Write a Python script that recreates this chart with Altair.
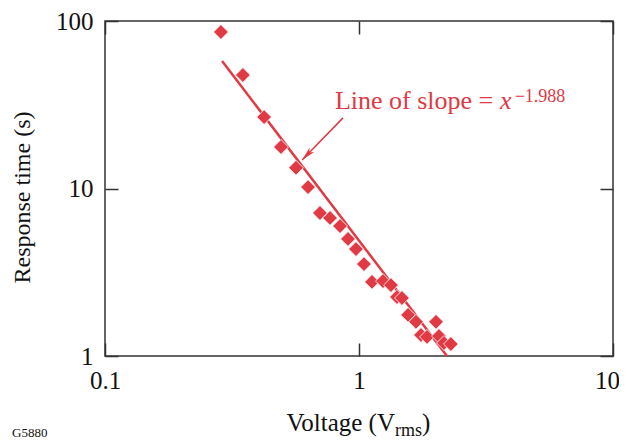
import altair as alt
import pandas as pd

# ---- data ----
volts = [0.286, 0.349, 0.423, 0.493, 0.565, 0.630, 0.702, 0.769, 0.842, 0.905,
         0.973, 1.046, 1.125, 1.243, 1.336, 1.411, 1.476, 1.560, 1.676, 2.010,
         1.754, 1.852, 2.065, 2.160, 2.300]
times = [86.0, 47.6, 26.7, 17.7, 13.3, 10.2, 7.14, 6.67, 5.97, 5.00,
         4.35, 3.54, 2.77, 2.80, 2.65, 2.25, 2.22, 1.76, 1.60, 1.60,
         1.335, 1.30, 1.316, 1.196, 1.179]
fit_v = [0.289, 2.22]
fit_t = [57.7, 1.0]
arrow_tail = [0.865, 26.4]
arrow_head = [0.597, 14.8]
x_ticks = [0.1, 1, 10]
y_ticks = [1, 10, 100]
ann_main = "Line of slope = "
ann_var = "x"
ann_exp = "\u22121.988"
ann_pos = [0.804, 29.8]
var_pos = [3.59, 29.8]
exp_pos = [4.1, 32.8]

RED = "#e03a45"
FONT = "Liberation Serif"
AX = "#333333"

xs = alt.Scale(type="log", domain=[0.1, 10])
ys = alt.Scale(type="log", domain=[1, 100])

pts = pd.DataFrame({"v": volts, "t": times})
fit = pd.DataFrame({"v": fit_v, "t": fit_t})
arr = pd.DataFrame({"v": [arrow_tail[0]], "t": [arrow_tail[1]],
                    "v2": [arrow_head[0]], "t2": [arrow_head[1]]})
head = pd.DataFrame({"v": [arrow_head[0]], "t": [arrow_head[1]]})
one = pd.DataFrame({"a": [0]})

x_bottom = alt.Axis(values=x_ticks, format="~g", orient="bottom", offset=-13,
                    tickSize=13, tickWidth=1.5, tickColor=AX, domain=False, grid=False,
                    labelFont=FONT, labelFontSize=25, labelColor="#111", labelPadding=12,
                    labelOffset={"condition": {"test": "datum.value >= 10", "value": -6},
                                 "value": 0},
                    title=None, labelFlush=False)
y_left = alt.Axis(values=y_ticks, format="~g", orient="left", offset=-13,
                  tickSize=13, tickWidth=1.5, tickColor=AX, domain=False, grid=False,
                  labelFont=FONT, labelFontSize=25, labelColor="#111", labelPadding=12,
                  title="Response time (s)", titleFont=FONT, titleFontSize=24,
                  titleFontWeight="normal", titleColor="#111", titlePadding=21,
                  titleY=176, labelFlush=False)
x_top = alt.Axis(values=x_ticks, orient="top", offset=-13, tickSize=13, tickWidth=1.5,
                 tickColor=AX, domain=False, grid=False, labels=False, title=None)
y_right = alt.Axis(values=y_ticks, orient="right", offset=-13, tickSize=13, tickWidth=1.5,
                   tickColor=AX, domain=False, grid=False, labels=False, title=None)

line = alt.Chart(fit).mark_line(color=RED, strokeWidth=2.5).encode(
    x=alt.X("v:Q", scale=xs, axis=x_top),
    y=alt.Y("t:Q", scale=ys, axis=y_right),
)

points = alt.Chart(pts).mark_point(shape="diamond", filled=True, size=220, opacity=1,
                                   fill=RED, stroke="white", strokeWidth=0.8).encode(
    x=alt.X("v:Q", scale=xs, axis=x_bottom),
    y=alt.Y("t:Q", scale=ys, axis=y_left),
)

rule = alt.Chart(arr).mark_rule(color=RED, strokeWidth=1.5).encode(
    x=alt.X("v:Q", scale=xs, axis=None), y=alt.Y("t:Q", scale=ys, axis=None),
    x2="v2:Q", y2="t2:Q",
)

arrowhead = alt.Chart(head).mark_point(
    shape="M0,0L0.45,2L0,1.45L-0.45,2Z", filled=True, fill=RED, opacity=1,
    size=200, angle=224, strokeWidth=0,
).encode(x=alt.X("v:Q", scale=xs, axis=None), y=alt.Y("t:Q", scale=ys, axis=None))

def ann(text, pos, size, style="normal"):
    df = pd.DataFrame({"v": [pos[0]], "t": [pos[1]], "s": [text]})
    return alt.Chart(df).mark_text(font=FONT, fontSize=size, fontStyle=style, color=RED,
                                   align="left", baseline="alphabetic").encode(
        x=alt.X("v:Q", scale=xs, axis=None), y=alt.Y("t:Q", scale=ys, axis=None),
        text="s:N")

t_main = ann(ann_main, ann_pos, 26)
t_var = ann(ann_var, var_pos, 26, style="italic")
t_exp = ann(ann_exp, exp_pos, 18)

def ptext(text, x, y, size, align="left", color="#111"):
    return alt.Chart(one).mark_text(font=FONT, fontSize=size, color=color, align=align,
                                    baseline="alphabetic", text=text).encode(
        x=alt.value(x), y=alt.value(y))

xt1 = ptext("Voltage (V", 290, 410, 25, align="right")
xt2 = ptext("rms", 290, 415, 18)
xt3 = ptext(")", 317, 410, 25)
g = ptext("G5880", -93, 416, 13)

chart = alt.layer(line, points, rule, arrowhead, t_main, t_var, t_exp, xt1, xt2, xt3, g).resolve_axis(
    x="independent", y="independent"
).properties(
    width=508, height=335,
    padding={"left": 97, "top": 13, "right": 6, "bottom": 83},
    autosize=alt.AutoSizeParams(type="none"),
).configure_view(stroke=AX, strokeWidth=1.5)

chart.save("out.html", embed_options={"renderer": "svg", "actions": False})
